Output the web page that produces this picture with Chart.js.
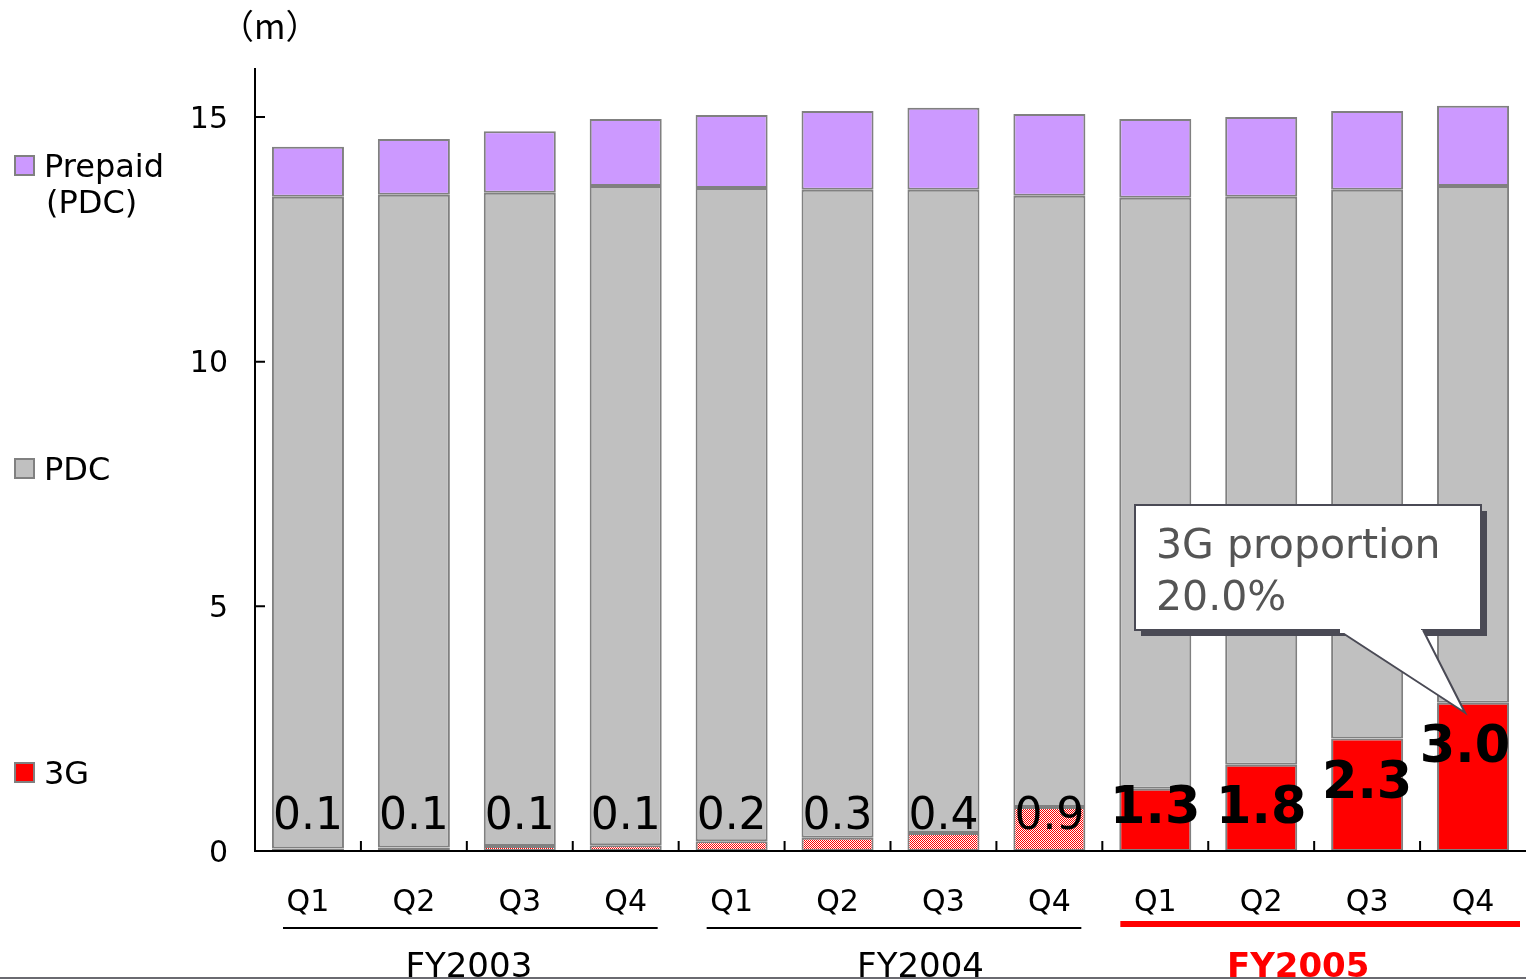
<!DOCTYPE html>
<html>
<head>
<meta charset="utf-8">
<script src="https://cdn.jsdelivr.net/npm/chart.js@4.4.1/dist/chart.umd.min.js"></script>
<style>
  html, body { margin: 0; padding: 0; background: #fff; overflow: hidden; }
  #wrap { position: relative; width: 1526px; height: 979px; }
</style>
</head>
<body>
<div id="wrap"><canvas id="subsChart" width="1526" height="979"></canvas></div>
<script>
// data (millions of subscribers)
const quarters = ["Q1", "Q2", "Q3", "Q4", "Q1", "Q2", "Q3", "Q4", "Q1", "Q2", "Q3", "Q4"];
const quarterYear = [0, 0, 0, 0, 1, 1, 1, 1, 2, 2, 2, 2];
const fiscalYears = ["FY2003", "FY2004", "FY2005"];
const subs3G = [0.05, 0.07, 0.1, 0.12, 0.2, 0.27, 0.37, 0.9, 1.27, 1.76, 2.3, 3.03];
const subsPDC = [13.32, 13.34, 13.35, 13.47, 13.35, 13.24, 13.14, 12.49, 12.08, 11.61, 11.21, 10.56];
const subsPrepaid = [1.02, 1.14, 1.26, 1.37, 1.49, 1.61, 1.68, 1.67, 1.61, 1.63, 1.61, 1.64];
const labels3G = ["0.1", "0.1", "0.1", "0.1", "0.2", "0.3", "0.4", "0.9", "1.3", "1.8", "2.3", "3.0"];
const yTicks = [0, 5, 10, 15];
const calloutLines = ["3G proportion", "20.0%"];

const FONT = "'DejaVu Sans', 'Noto Sans', sans-serif";
const RED = "#ff0000";
const GRAY = "#c0c0c0";
const PURPLE = "#cc99ff";
const EDGE = "#808080";
const currentYear = 2;
const DY = 4; // DejaVu sits a little high with a middle baseline

// pink dotted fill for the earlier 3G bars
function dotPattern() {
  const c = document.createElement("canvas");
  c.width = 2;
  c.height = 2;
  const p = c.getContext("2d");
  p.fillStyle = "#ffffff";
  p.fillRect(0, 0, 2, 2);
  p.fillStyle = RED;
  p.fillRect(0, 0, 1, 1);
  p.fillRect(1, 1, 1, 1);
  return p.createPattern(c, "repeat");
}
const pattern = dotPattern();

function legendItem(ctx, y, color, lines) {
  ctx.fillStyle = color;
  ctx.fillRect(15, y - 9, 19, 19);
  ctx.strokeStyle = EDGE;
  ctx.lineWidth = 2;
  ctx.strokeRect(15, y - 9, 19, 19);
  ctx.fillStyle = "#000";
  lines.forEach((t, i) => ctx.fillText(t, i ? 46 : 44, y + DY + i * 36));
}

const decorations = {
  id: "decorations",
  afterDatasetsDraw(chart) {
    const { ctx, chartArea, scales } = chart;
    const ys = scales.y;
    const { left, right, top, bottom } = chartArea;
    const step = (right - left) / quarters.length;
    ctx.save();

    // axes with inward ticks
    ctx.strokeStyle = "#000";
    ctx.lineWidth = 2;
    ctx.beginPath();
    ctx.moveTo(left, top);
    ctx.lineTo(left, bottom);
    ctx.lineTo(right, bottom);
    ctx.stroke();
    ctx.beginPath();
    yTicks.forEach((v) => {
      if (v === 0) return;
      const y = ys.getPixelForValue(v);
      ctx.moveTo(left, y);
      ctx.lineTo(left + 10, y);
    });
    for (let i = 1; i < quarters.length; i++) {
      const x = left + i * step;
      ctx.moveTo(x, bottom);
      ctx.lineTo(x, bottom - 10);
    }
    ctx.stroke();

    // 3G value labels
    const meta = chart.getDatasetMeta(0);
    ctx.textAlign = "center";
    ctx.textBaseline = "middle";
    ctx.fillStyle = "#000";
    meta.data.forEach((bar, i) => {
      if (quarterYear[i] === currentYear) {
        ctx.font = "bold 51px " + FONT;
        const x = i === meta.data.length - 1 ? bar.x - 8 : bar.x;
        ctx.fillText(labels3G[i], x, Math.min(806, bar.y + 42) + DY);
      } else {
        ctx.font = "44px " + FONT;
        ctx.fillText(labels3G[i], bar.x, 814 + DY);
      }
    });

    // fiscal year groups
    const nudge = [2, 30, -16];
    fiscalYears.forEach((fy, g) => {
      const gl = left + g * 4 * step, gr = gl + 4 * step;
      const isCur = g === currentYear;
      ctx.beginPath();
      ctx.strokeStyle = isCur ? RED : "#000";
      ctx.lineWidth = isCur ? 6 : 2;
      ctx.moveTo(gl + (isCur ? 18 : 28), isCur ? 924 : 928);
      ctx.lineTo(gr - (isCur ? 6 : 21), isCur ? 924 : 928);
      ctx.stroke();
      ctx.font = (isCur ? "bold " : "") + "34px " + FONT;
      ctx.fillStyle = isCur ? RED : "#000";
      ctx.textAlign = "center";
      ctx.textBaseline = "middle";
      ctx.fillText(fy, (gl + gr) / 2 + nudge[g], 964 + DY);
    });

    // unit
    ctx.font = "34px 'Noto Sans CJK JP', " + FONT;
    ctx.fillStyle = "#000";
    ctx.textAlign = "left";
    ctx.fillText("（m）", 220, 26);

    // legend on the left
    ctx.font = "32px " + FONT;
    legendItem(ctx, 165, PURPLE, ["Prepaid", "(PDC)"]);
    legendItem(ctx, 468, GRAY, ["PDC"]);
    legendItem(ctx, 772, RED, ["3G"]);

    // callout pointing at the last 3G bar
    const last = meta.data[meta.data.length - 1];
    const bx = 1135, by = 505, bw = 346, bh = 125;
    ctx.fillStyle = "#4a4a55";
    ctx.fillRect(bx + 6, by + 6, bw, bh);
    ctx.fillStyle = "#fff";
    ctx.fillRect(bx, by, bw, bh);
    ctx.strokeStyle = "#4a4a55";
    ctx.lineWidth = 2;
    ctx.strokeRect(bx, by, bw, bh);
    ctx.beginPath();
    ctx.moveTo(1338, by + bh);
    ctx.lineTo(last.x - 8, last.y + 10);
    ctx.lineTo(1423, by + bh);
    ctx.closePath();
    ctx.fillStyle = "#fff";
    ctx.fill();
    ctx.beginPath();
    ctx.moveTo(1338, by + bh);
    ctx.lineTo(last.x - 8, last.y + 10);
    ctx.lineTo(1423, by + bh);
    ctx.stroke();
    ctx.fillStyle = "#fff";
    ctx.fillRect(1340, by + bh - 1, 81, 4);
    ctx.font = "41px " + FONT;
    ctx.fillStyle = "#555";
    ctx.textAlign = "left";
    ctx.fillText(calloutLines[0], 1156, 543 + DY);
    ctx.fillText(calloutLines[1], 1156, 595 + DY);

    // slide frame line at the bottom
    ctx.fillStyle = "#6a6a70";
    ctx.fillRect(0, 977, 1526, 2);
    ctx.restore();
  },
};

new Chart(document.getElementById("subsChart"), {
  type: "bar",
  data: {
    labels: quarters,
    datasets: [
      {
        label: "3G",
        data: subs3G,
        backgroundColor: quarterYear.map((y) => (y === currentYear ? RED : pattern)),
        borderColor: EDGE,
        borderWidth: 2,
        borderSkipped: false,
      },
      {
        label: "PDC",
        data: subsPDC,
        backgroundColor: GRAY,
        borderColor: EDGE,
        borderWidth: 2,
        borderSkipped: false,
      },
      {
        label: "Prepaid (PDC)",
        data: subsPrepaid,
        backgroundColor: PURPLE,
        borderColor: EDGE,
        borderWidth: 2,
        borderSkipped: false,
      },
    ],
  },
  options: {
    responsive: false,
    animation: false,
    categoryPercentage: 1,
    barPercentage: 0.68,
    layout: { padding: { top: 68, right: 0, left: 0, bottom: 0 } },
    plugins: { legend: { display: false }, tooltip: { enabled: false } },
    scales: {
      x: {
        stacked: true,
        grid: { display: false, drawTicks: false },
        border: { display: false },
        ticks: { color: "#000", font: { family: FONT, size: 30 }, padding: 34, maxRotation: 0, autoSkip: false },
        afterFit: (s) => { s.height = 128; s.paddingLeft = 0; s.paddingRight = 0; },
      },
      y: {
        stacked: true,
        min: 0,
        max: 16,
        afterBuildTicks: (s) => { s.ticks = yTicks.map((v) => ({ value: v })); },
        grid: { display: false, drawTicks: false },
        border: { display: false },
        ticks: { color: "#000", font: { family: FONT, size: 30 }, padding: 27, labelOffset: 3 },
        afterFit: (s) => { s.width = 255; },
      },
    },
  },
  plugins: [decorations],
});
</script>
</body>
</html>
